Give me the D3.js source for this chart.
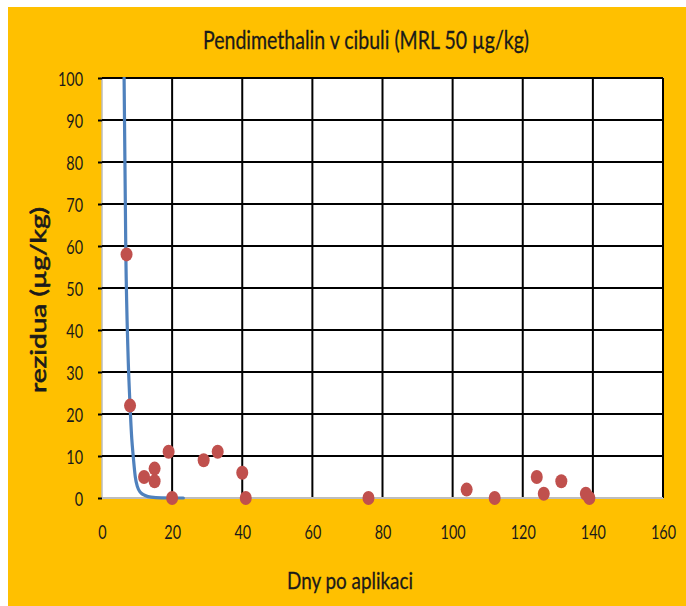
<!DOCTYPE html>
<html>
<head>
<meta charset="utf-8">
<script src="https://cdn.jsdelivr.net/npm/d3@7/dist/d3.min.js"></script>
<style>
  html, body { margin: 0; padding: 0; background: #fff; }
  svg { display: block; }
  text { font-family: Lato, "Open Sans", sans-serif; fill: #1a1a1a; }
</style>
</head>
<body>
<svg id="chart" width="686" height="606"></svg>
<script>
// ---- data ----
const titleText = "Pendimethalin v cibuli (MRL 50 µg/kg)";
const xLabelText = "Dny po aplikaci";
const yLabelText = "rezidua (µg/kg)";
const xTicks = [0, 20, 40, 60, 80, 100, 120, 140, 160];
const yTicks = [0, 10, 20, 30, 40, 50, 60, 70, 80, 90, 100];

// measured residues: day after application, residue (µg/kg)
const pointDays   = [7, 8, 12, 15, 15, 19, 20, 29, 33, 40, 41, 76, 104, 112, 124, 126, 131, 138, 139];
const pointValues = [58, 22, 5, 7, 4, 11, 0, 9, 11, 6, 0, 0, 2, 0, 5, 1, 4, 1, 0];

// fitted decay curve
const curveDays   = [6.3, 6.8, 7.4, 8.0, 8.5, 8.9, 9.5, 10.1, 11.0, 12.3, 14.0, 17.0, 23.2];
const curveValues = [100, 58, 35, 22, 14, 10, 5, 2.7, 1.3, 0.6, 0.2, 0.05, 0];

// ---- layout ----
const svg = d3.select("#chart");
const plot = { left: 102, right: 663, top: 78, bottom: 498 };

svg.append("rect").attr("x", 8).attr("y", 7).attr("width", 678).attr("height", 599).attr("fill", "#FFC000");

const x = d3.scaleLinear().domain([0, 160]).range([plot.left, plot.right]);
const y = d3.scaleLinear().domain([0, 100]).range([plot.bottom, plot.top]);

svg.append("rect")
  .attr("x", plot.left).attr("y", plot.top)
  .attr("width", plot.right - plot.left).attr("height", plot.bottom - plot.top)
  .attr("fill", "#fff").attr("stroke", "#bdbdbd").attr("stroke-width", 1.5);

function squeeze(sel, factor) {
  sel.each(function() {
    const w = this.getComputedTextLength();
    d3.select(this).attr("textLength", w * factor).attr("lengthAdjust", "spacingAndGlyphs");
  });
}

// y axis
const yAxis = svg.append("g").attr("transform", `translate(${plot.left},0)`)
  .call(d3.axisLeft(y).tickValues(yTicks).tickSize(4).tickPadding(15).tickFormat(d3.format("d")));
yAxis.select(".domain").remove();
yAxis.selectAll(".tick line").attr("stroke", "#000").attr("stroke-width", 2);
yAxis.selectAll(".tick text").attr("font-size", 20).attr("fill", "#1a1a1a")
  .attr("font-family", "Lato, sans-serif").attr("dy", "0.36em");
yAxis.selectAll(".tick text").call(squeeze, 0.72);

const gridY = svg.append("g");
gridY.selectAll("line").data(yTicks.filter(d => d > 0)).join("line")
  .attr("x1", plot.left).attr("x2", plot.right)
  .attr("y1", d => y(d)).attr("y2", d => y(d))
  .attr("stroke", "#000").attr("stroke-width", 2);

const gridX = svg.append("g");
gridX.selectAll("line").data(xTicks.filter(d => d > 0)).join("line")
  .attr("x1", d => x(d)).attr("x2", d => x(d))
  .attr("y1", plot.top).attr("y2", plot.bottom)
  .attr("stroke", "#000").attr("stroke-width", 2);

// bottom axis line
svg.append("line").attr("x1", plot.left).attr("x2", plot.right)
  .attr("y1", plot.bottom).attr("y2", plot.bottom)
  .attr("stroke", "#bdbdbd").attr("stroke-width", 2);

const xAxis = svg.append("g").attr("transform", `translate(0,${plot.bottom})`)
  .call(d3.axisBottom(x).tickValues(xTicks).tickSize(0).tickPadding(27).tickFormat(d3.format("d")));
xAxis.select(".domain").remove();
xAxis.selectAll(".tick text").attr("font-size", 20).attr("fill", "#1a1a1a")
  .attr("font-family", "Lato, sans-serif");
xAxis.selectAll(".tick text").call(squeeze, 0.72);

// curve
svg.append("clipPath").attr("id", "clip").append("rect")
  .attr("x", plot.left).attr("y", plot.top - 1)
  .attr("width", plot.right - plot.left).attr("height", plot.bottom - plot.top + 10);
const line = d3.line().x(d => x(d[0])).y(d => y(d[1])).curve(d3.curveMonotoneX);
svg.append("path")
  .datum(d3.zip(curveDays, curveValues))
  .attr("clip-path", "url(#clip)")
  .attr("d", line)
  .attr("fill", "none").attr("stroke", "#4F81BD").attr("stroke-width", 3.2)
  .attr("stroke-linecap", "round");

// points
svg.append("g").selectAll("ellipse").data(d3.zip(pointDays, pointValues)).join("ellipse")
  .attr("cx", d => x(d[0])).attr("cy", d => y(d[1]))
  .attr("rx", 6).attr("ry", 7)
  .attr("fill", "#C0504D");

// title
svg.append("text").attr("x", 366).attr("y", 49).attr("text-anchor", "middle")
  .attr("font-size", 25).text(titleText)
  .attr("stroke", "#1a1a1a").attr("stroke-width", 0.3)
  .attr("textLength", 326).attr("lengthAdjust", "spacingAndGlyphs");

// x label
svg.append("text").attr("x", 350).attr("y", 589).attr("text-anchor", "middle")
  .attr("font-size", 23).text(xLabelText)
  .attr("stroke", "#1a1a1a").attr("stroke-width", 0.3)
  .attr("textLength", 126).attr("lengthAdjust", "spacingAndGlyphs");

// y label
svg.append("text").attr("transform", "translate(46,300) rotate(-90)")
  .attr("text-anchor", "middle").attr("font-size", 21)
  .attr("stroke", "#1a1a1a").attr("stroke-width", 0.6)
  .text(yLabelText)
  .attr("textLength", 186).attr("lengthAdjust", "spacingAndGlyphs");
</script>
</body>
</html>
